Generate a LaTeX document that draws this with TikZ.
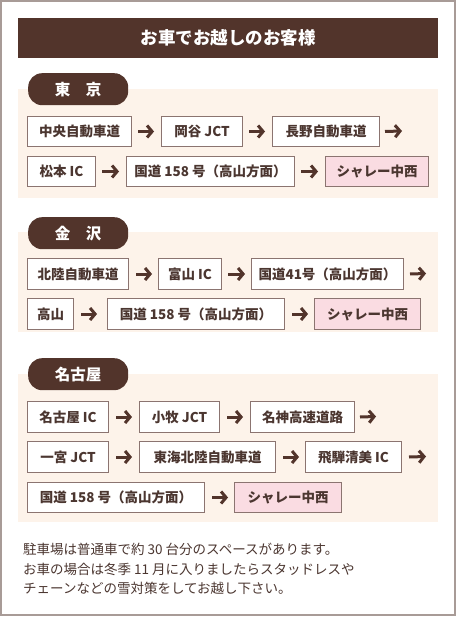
\documentclass[tikz,border=0pt]{standalone}
\usepackage{fontspec}
\setmainfont{Noto Sans CJK JP}
\usetikzlibrary{arrows.meta}
\definecolor{dbrown}{HTML}{52342B}
\definecolor{band}{HTML}{FDF3EA}
\definecolor{pinkbox}{HTML}{FADCE2}
\definecolor{boxline}{HTML}{8B7470}
\definecolor{txt}{HTML}{4B3630}
\definecolor{outer}{HTML}{A89B97}
\begin{document}
\begin{tikzpicture}[x=1pt,y=-1pt,
  stepbox/.style={draw=boxline, line width=1pt, fill=white, inner sep=0pt, anchor=north west,
    text=txt, font=\fontsize{13.5}{13.5}\selectfont\bfseries},
  goal/.style={stepbox, fill=pinkbox},
  tab/.style={fill=dbrown, rounded corners=14pt, inner sep=0pt, anchor=north west,
    text=white, font=\fontsize{15.5}{15.5}\selectfont\bfseries, minimum width=100pt, minimum height=32pt},
  arr/.style={draw=dbrown, line width=3pt, -{Straight Barb[length=5pt,width=12pt,line width=3pt]}},
  note/.style={anchor=west, text=txt, inner sep=0pt, font=\fontsize{13.5}{13.5}\selectfont}
]
\useasboundingbox (0,0) rectangle (457,617);
\fill[white] (0,0) rectangle (457,617);
\draw[outer, line width=2pt] (1,1) rectangle (455,615);
% title
\node[fill=dbrown, minimum width=420pt, minimum height=40pt, inner sep=0pt, anchor=north west,
  text=white, font=\fontsize{17.5}{17.5}\selectfont\bfseries] (title) at (18,18) {お車でお越しのお客様};
% bands
\fill[band] (18,89) rectangle (438,198);
\fill[band] (18,232) rectangle (438,332);
\fill[band] (18,374) rectangle (438,522);
% Tokyo
\node[tab] (t1) at (28,73) {東　京};
\node[stepbox, minimum width=104pt, minimum height=30pt] (a1) at (27,116) {中央自動車道};
\node[stepbox, minimum width=81pt, minimum height=30pt] (a2) at (161,116) {岡谷 JCT};
\node[stepbox, minimum width=107pt, minimum height=30pt] (a3) at (272,116) {長野自動車道};
\coordinate (a3e) at (402,131);
\node[stepbox, minimum width=68pt, minimum height=30pt] (a4) at (27,156) {松本 IC};
\node[stepbox, minimum width=168pt, minimum height=30pt] (a5) at (126,156) {国道 158 号（高山方面）};
\node[goal, minimum width=103pt, minimum height=30pt] (a6) at (325,156) {シャレー中西};
\draw[arr] ([xshift=6pt]a1.east) -- ([xshift=-7pt]a2.west);
\draw[arr] ([xshift=6pt]a2.east) -- ([xshift=-7pt]a3.west);
\draw[arr] ([xshift=5pt]a3.east) -- (a3e);
\draw[arr] ([xshift=6pt]a4.east) -- ([xshift=-7pt]a5.west);
\draw[arr] ([xshift=6pt]a5.east) -- ([xshift=-7pt]a6.west);
% Kanazawa
\node[tab] (t2) at (28,217) {金　沢};
\node[stepbox, minimum width=101pt, minimum height=31pt] (b1) at (27,258) {北陸自動車道};
\node[stepbox, minimum width=63pt, minimum height=31pt] (b2) at (158,258) {富山 IC};
\node[stepbox, minimum width=152pt, minimum height=31pt] (b3) at (251,258) {国道41号（高山方面）};
\coordinate (b3e) at (426,273.5);
\node[stepbox, minimum width=46pt, minimum height=31pt] (b4) at (27,298) {高山};
\node[stepbox, minimum width=177pt, minimum height=31pt] (b5) at (107,298) {国道 158 号（高山方面）};
\node[goal, minimum width=106pt, minimum height=31pt] (b6) at (314,298) {シャレー中西};
\draw[arr] ([xshift=7pt]b1.east) -- ([xshift=-6pt]b2.west);
\draw[arr] ([xshift=6pt]b2.east) -- ([xshift=-6pt]b3.west);
\draw[arr] ([xshift=6pt]b3.east) -- (b3e);
\draw[arr] ([xshift=7pt]b4.east) -- ([xshift=-10pt]b5.west);
\draw[arr] ([xshift=7pt]b5.east) -- ([xshift=-6pt]b6.west);
% Nagoya
\node[tab] (t3) at (28,358) {名古屋};
\node[stepbox, minimum width=81pt, minimum height=31pt] (c1) at (27,401) {名古屋 IC};
\node[stepbox, minimum width=80pt, minimum height=31pt] (c2) at (139,401) {小牧 JCT};
\node[stepbox, minimum width=104pt, minimum height=31pt] (c3) at (250,401) {名神高速道路};
\coordinate (c3e) at (376,416.5);
\node[stepbox, minimum width=81pt, minimum height=31pt] (c4) at (27,441) {一宮 JCT};
\node[stepbox, minimum width=136pt, minimum height=31pt] (c5) at (139,441) {東海北陸自動車道};
\node[stepbox, minimum width=96pt, minimum height=31pt] (c6) at (305,441) {飛騨清美 IC};
\coordinate (c6e) at (426,456.5);
\node[stepbox, minimum width=177pt, minimum height=30pt] (c7) at (27,482) {国道 158 号（高山方面）};
\node[goal, minimum width=107pt, minimum height=30pt] (c8) at (234,482) {シャレー中西};
\draw[arr] ([xshift=7pt]c1.east) -- ([xshift=-7pt]c2.west);
\draw[arr] ([xshift=7pt]c2.east) -- ([xshift=-7pt]c3.west);
\draw[arr] ([xshift=5pt]c3.east) -- (c3e);
\draw[arr] ([xshift=7pt]c4.east) -- ([xshift=-7pt]c5.west);
\draw[arr] ([xshift=7pt]c5.east) -- ([xshift=-6pt]c6.west);
\draw[arr] ([xshift=7pt]c6.east) -- (c6e);
\draw[arr] ([xshift=7pt]c7.east) -- ([xshift=-6pt]c8.west);
% notes
\node[note] (n1) at (23,549) {駐車場は普通車で約 30 台分のスペースがあります。};
\node[note] (n2) at (23,569) {お車の場合は冬季 11 月に入りましたらスタッドレスや};
\node[note] (n3) at (23,588) {チェーンなどの雪対策をしてお越し下さい。};
\end{tikzpicture}
\end{document}
